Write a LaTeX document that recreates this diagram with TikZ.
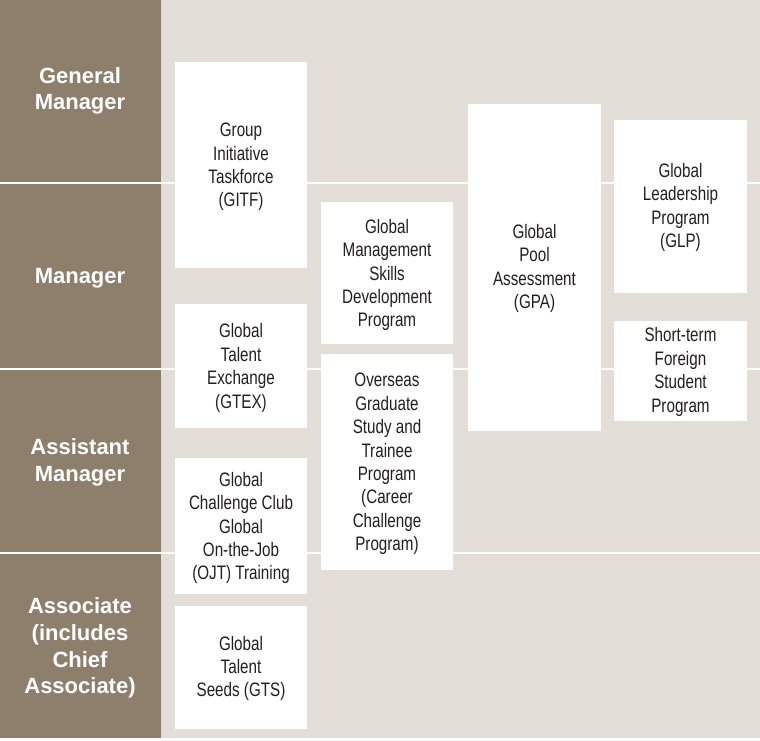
\documentclass[tikz,border=0pt]{standalone}
\usepackage{fontspec}
\setmainfont{Liberation Sans}
\newfontfamily\boxfont[FakeStretch=0.78]{Liberation Sans}
\definecolor{brownband}{RGB}{142,127,108}
\definecolor{paper}{RGB}{227,223,216}
\definecolor{ink}{RGB}{35,31,32}
\begin{document}
\begin{tikzpicture}[x=1pt,y=-1pt,
  progbox/.style={fill=white, inner sep=0pt},
  progtext/.style={inner sep=0pt, align=center, text=ink,
    font=\boxfont\fontsize{19.5}{23.4}\selectfont},
  rank/.style={align=center, text=white,
    font=\bfseries\fontsize{22}{26.7}\selectfont}]
\useasboundingbox (0,0) rectangle (760,740);
\fill[paper] (0,0) rectangle (760,740);
\fill[brownband] (0,0) rectangle (161,740);
\foreach \y in {183,369,553} \draw[white, line width=2.5pt] (0,\y) -- (760,\y);
\fill[white] (0,737.5) rectangle (760,740);
% rank labels
\node[rank] (gm) at (80,91) {General\\Manager};
\node[rank] (mgr) at (80,278) {Manager};
\node[rank] (am) at (80,462) {Assistant\\Manager};
\node[rank] (assoc) at (80,648) {Associate\\(includes\\Chief\\Associate)};
% program boxes
\node[progbox, minimum width=132pt, minimum height=206pt] (gitf) at (241,165) {};
\node[progbox, minimum width=132pt, minimum height=124pt] (gtex) at (241,366) {};
\node[progbox, minimum width=132pt, minimum height=136pt] (gcc) at (241,526) {};
\node[progbox, minimum width=132pt, minimum height=123pt] (gts) at (241,667.5) {};
\node[progbox, minimum width=132pt, minimum height=142pt] (gmsd) at (387,273) {};
\node[progbox, minimum width=132pt, minimum height=216pt] (ogs) at (387,462) {};
\node[progbox, minimum width=133pt, minimum height=327pt] (gpa) at (534.5,267.5) {};
\node[progbox, minimum width=133pt, minimum height=173pt] (glp) at (680.5,206.5) {};
\node[progbox, minimum width=133pt, minimum height=100pt] (sfs) at (680.5,371) {};
% program texts
\node[progtext] (gitft) at ([yshift=-2pt]gitf.center) {Group\\Initiative\\Taskforce\\(GITF)};
\node[progtext] (gtext) at ([yshift=-2pt]gtex.center) {Global\\Talent\\Exchange\\(GTEX)};
\node[progtext] (gcct) at ([yshift=-2pt]gcc.center) {Global\\Challenge Club\\Global\\On-the-Job\\(OJT) Training};
\node[progtext] (gtst) at ([yshift=-1pt]gts.center) {Global\\Talent\\Seeds (GTS)};
\node[progtext] (gmsdt) at ([yshift=-2pt]gmsd.center) {Global\\Management\\Skills\\Development\\Program};
\node[progtext] (ogst) at ([yshift=-2pt]ogs.center) {Overseas\\Graduate\\Study and\\Trainee\\Program\\(Career\\Challenge\\Program)};
\node[progtext] (gpat) at ([yshift=-1pt]gpa.center) {Global\\Pool\\Assessment\\(GPA)};
\node[progtext] (glpt) at ([yshift=-1pt]glp.center) {Global\\Leadership\\Program\\(GLP)};
\node[progtext] (sfst) at ([yshift=-1pt]sfs.center) {Short-term\\Foreign\\Student\\Program};
\end{tikzpicture}
\end{document}
